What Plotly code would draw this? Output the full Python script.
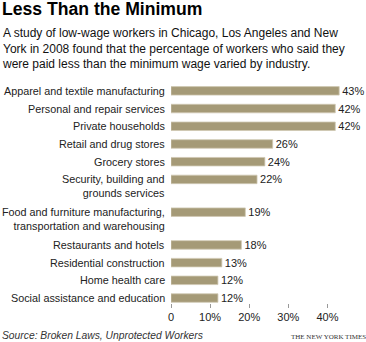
import plotly.graph_objects as go

categories = [
    "Apparel and textile manufacturing",
    "Personal and repair services",
    "Private households",
    "Retail and drug stores",
    "Grocery stores",
    "Security, building and<br>grounds services",
    "Food and furniture manufacturing,<br>transportation and warehousing",
    "Restaurants and hotels",
    "Residential construction",
    "Home health care",
    "Social assistance and education",
]
values = [43, 42, 42, 26, 24, 22, 19, 18, 13, 12, 12]
tick_values = [0, 10, 20, 30, 40]
tick_labels = ["0", "10%", "20%", "30%", "40%"]

title = "Less Than the Minimum"
subtitle = ("A study of low-wage workers in Chicago, Los Angeles and New<br>"
            "York in 2008 found that the percentage of workers who said they<br>"
            "were paid less than the minimum wage varied by industry.")
source = "Source: Broken Laws, Unprotected Workers"
credit = "THE NEW YORK TIMES"

# row positions: one unit per row, extra space below two-line labels
ypos = []
cur = 0.0
for c in categories:
    ypos.append(cur)
    cur += 1.0 + 0.85 * c.count("<br>")

BAR = "#a59a77"
FONT = "Liberation Sans, Arial, sans-serif"
LBL = 10.8

fig = go.Figure()
fig.add_trace(go.Bar(
    x=values, y=ypos, orientation="h", width=0.48,
    marker=dict(color=BAR, line=dict(color="#cfc8b2", width=0.8)),
    text=[f"{v}%" for v in values], textposition="outside",
    textfont=dict(family=FONT, size=11, color="#222"),
    constraintext="none", cliponaxis=False, hoverinfo="skip",
))

annotations = []
for c, y in zip(categories, ypos):
    if "<br>" in c:
        annotations.append(dict(x=0, xref="paper", y=y, yref="y", text=c,
                                xanchor="right", yanchor="top", align="right",
                                xshift=-4, yshift=8, showarrow=False,
                                font=dict(family=FONT, size=LBL, color="#222")))
    else:
        annotations.append(dict(x=0, xref="paper", y=y, yref="y", text=c,
                                xanchor="right", yanchor="middle", align="right",
                                xshift=-4, showarrow=False,
                                font=dict(family=FONT, size=LBL, color="#222")))

annotations += [
    dict(x=-171 / 176, xref="paper", y=1, yref="paper", yshift=82 - 9,
         text=f"<b>{title}</b>", xanchor="left", yanchor="middle", showarrow=False,
         font=dict(family="Liberation Sans, Arial, sans-serif", size=17.6, color="#000")),
    dict(x=-171 / 176, xref="paper", y=1, yref="paper", yshift=82 - 24,
         text=subtitle, xanchor="left", yanchor="top", align="left", showarrow=False,
         font=dict(family=FONT, size=12, color="#111")),
    dict(x=-171 / 176, xref="paper", y=0, yref="paper", yshift=-(335 - 303),
         text=f"<i>{source}</i>", xanchor="left", yanchor="middle", showarrow=False,
         font=dict(family=FONT, size=10.3, color="#333")),
    dict(x=1, xref="paper", y=0, yref="paper", xshift=21, yshift=-(337 - 303),
         text=credit, xanchor="right", yanchor="middle", showarrow=False,
         font=dict(family="Liberation Serif, Times New Roman, serif", size=7, color="#333")),
]

fig.update_layout(
    width=366, height=342,
    margin=dict(l=171, r=19, t=82, b=39),
    paper_bgcolor="white", plot_bgcolor="white",
    showlegend=False,
    annotations=annotations,
    xaxis=dict(range=[0, 45], tickvals=tick_values, ticktext=tick_labels,
               showgrid=True, gridcolor="white", gridwidth=1.5,
               zeroline=True, zerolinecolor="rgba(0,0,0,0)",
               layer="above traces", showline=False,
               ticks="outside", ticklen=4, tickcolor="#999", tickwidth=1,
               tickfont=dict(family=FONT, size=11, color="#222"), fixedrange=True),
    yaxis=dict(range=[ypos[-1] + 0.28, -0.5], showticklabels=False,
               showgrid=False, zeroline=False, showline=False, fixedrange=True),
)

fig.write_html("out.html")
